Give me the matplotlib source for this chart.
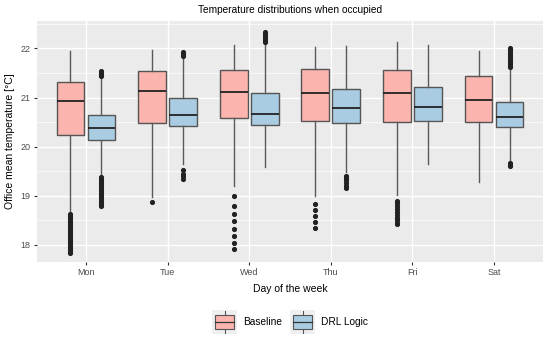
import matplotlib
matplotlib.use("Agg")
import matplotlib.pyplot as plt
from matplotlib.patches import Rectangle
from matplotlib.lines import Line2D
from matplotlib.legend_handler import HandlerBase
import matplotlib.patches as mpatches

plt.rcParams['font.family'] = ['Liberation Sans', 'DejaVu Sans']

days = ["Mon", "Tue", "Wed", "Thu", "Fri", "Sat"]
groups = ["Baseline", "DRL Logic"]
colors = ["#FBB4AE", "#A9CCE3"]

# five-number summaries: (whislo, q1, med, q3, whishi)
baseline_stats = [
    (18.65, 20.24, 20.92, 21.31, 21.94),
    (18.97, 20.48, 21.14, 21.55, 21.97),
    (19.20, 20.58, 21.11, 21.56, 22.08),
    (18.99, 20.53, 21.10, 21.58, 22.03),
    (19.02, 20.50, 21.10, 21.56, 22.13),
    (19.28, 20.50, 20.96, 21.44, 21.94),
]
drl_stats = [
    (19.41, 20.14, 20.37, 20.65, 21.40),
    (19.65, 20.43, 20.65, 21.00, 21.82),
    (19.58, 20.45, 20.67, 21.10, 22.10),
    (19.48, 20.49, 20.78, 21.18, 22.05),
    (19.65, 20.52, 20.80, 21.21, 22.08),
    (19.70, 20.41, 20.61, 20.90, 21.60),
]

baseline_fliers = [
    [18.62, 18.58, 18.54, 18.50, 18.46, 18.42, 18.38, 18.34, 18.30, 18.26, 18.22,
     18.18, 18.14, 18.10, 18.06, 18.02, 17.98, 17.94, 17.90, 17.86, 17.83],
    [18.88],
    [18.99, 18.80, 18.63, 18.48, 18.32, 18.18, 18.04, 17.92],
    [18.84, 18.70, 18.58, 18.46, 18.35],
    [18.90, 18.85, 18.80, 18.73, 18.66, 18.60, 18.55, 18.50, 18.45, 18.42],
    [],
]
drl_fliers = [
    [19.38, 19.34, 19.30, 19.26, 19.22, 19.18, 19.14, 19.10, 19.06, 19.02, 18.98,
     18.94, 18.90, 18.86, 18.82, 18.79, 21.43, 21.47, 21.51, 21.55],
    [21.85, 21.89, 21.92, 19.52, 19.45, 19.40, 19.35],
    [22.13, 22.17, 22.21, 22.25, 22.29, 22.33],
    [19.41, 19.36, 19.32, 19.26, 19.20, 19.15],
    [],
    [21.63, 21.67, 21.71, 21.75, 21.79, 21.83, 21.87, 21.91, 21.95, 21.99, 22.02,
     19.66, 19.63, 19.61],
]

y_ticks = [18, 19, 20, 21, 22]

fig = plt.figure(figsize=(5.5, 3.39), dpi=100)
ax = fig.add_axes([37/550, 1-262/339, (543-37)/550, (262-21)/339])
ax.set_facecolor("#EBEBEB")

def make_stats(stats, fliers):
    out = []
    for s, f in zip(stats, fliers):
        out.append(dict(whislo=s[0], q1=s[1], med=s[2], q3=s[3], whishi=s[4], fliers=f))
    return out

offsets = [-0.19, 0.19]
boxw = 0.34
for gi, (stats, fliers) in enumerate([(baseline_stats, baseline_fliers), (drl_stats, drl_fliers)]):
    pos = [i + 1 + offsets[gi] for i in range(len(days))]
    ax.bxp(make_stats(stats, fliers), positions=pos, widths=boxw, patch_artist=True,
           showcaps=False, manage_ticks=False,
           boxprops=dict(facecolor=colors[gi], edgecolor="#555555", linewidth=1.0),
           whiskerprops=dict(color="#5A5A5A", linewidth=1.0),
           medianprops=dict(color="#222222", linewidth=1.3),
           flierprops=dict(marker="o", markerfacecolor="#222222", markeredgecolor="#222222",
                           markersize=2.7, linestyle="none"),
           zorder=3)

ax.set_xlim(0.4, 6.6)
ax.set_ylim(17.65, 22.56)
ax.set_xticks(range(1, len(days) + 1))
ax.set_xticklabels(days)
ax.set_yticks(y_ticks)
ax.set_yticks([17.5 + i * 1.0 for i in range(6) if 17.65 < 17.5 + i < 22.56], minor=True)
ax.grid(True, which="major", color="white", linewidth=1.0, zorder=0)
ax.grid(True, which="minor", axis="y", color="white", linewidth=0.5, zorder=0)
ax.set_axisbelow(True)
for sp in ax.spines.values():
    sp.set_visible(False)
ax.tick_params(axis="both", which="major", length=2.5, color="#333333", labelcolor="#4D4D4D",
               labelsize=6.5, width=0.8, pad=2)
ax.tick_params(axis="both", which="minor", length=0)

ax.set_xlabel("Day of the week", fontsize=7.5, labelpad=5)
ax.set_ylabel("Office mean temperature [°C]", fontsize=7.5, labelpad=4)
ax.set_title("Temperature distributions when occupied", fontsize=7.3, pad=6)


class BoxHandler(HandlerBase):
    def create_artists(self, legend, orig_handle, xdescent, ydescent, width, height, fontsize, trans):
        fc = orig_handle.get_facecolor()
        arts = []
        bg = Rectangle((-xdescent, -ydescent), width, height, facecolor="#EFEFEF", edgecolor="none",
                       transform=trans)
        arts.append(bg)
        bx0 = -xdescent + width * 0.12
        bw = width * 0.76
        by0 = -ydescent + height * 0.2
        bh = height * 0.6
        cx = -xdescent + width / 2
        arts.append(Line2D([cx, cx], [-ydescent + height * 0.06, by0], color="#555555", lw=0.8, transform=trans))
        arts.append(Line2D([cx, cx], [by0 + bh, -ydescent + height * 0.94], color="#555555", lw=0.8, transform=trans))
        arts.append(Rectangle((bx0, by0), bw, bh, facecolor=fc, edgecolor="#555555", lw=0.8, transform=trans))
        arts.append(Line2D([bx0, bx0 + bw], [by0 + bh / 2, by0 + bh / 2], color="#333333", lw=0.9, transform=trans))
        return arts

handles = [mpatches.Patch(facecolor=c, label=g) for c, g in zip(colors, groups)]
leg = fig.legend(handles=handles, labels=groups, loc="center", bbox_to_anchor=(290/550, 1-322/339),
                 ncol=2, frameon=False, fontsize=7.3, handler_map={mpatches.Patch: BoxHandler()},
                 handlelength=2.45, handleheight=3.3, handletextpad=0.6, columnspacing=0.8)

fig.savefig("out.png", dpi=100)
